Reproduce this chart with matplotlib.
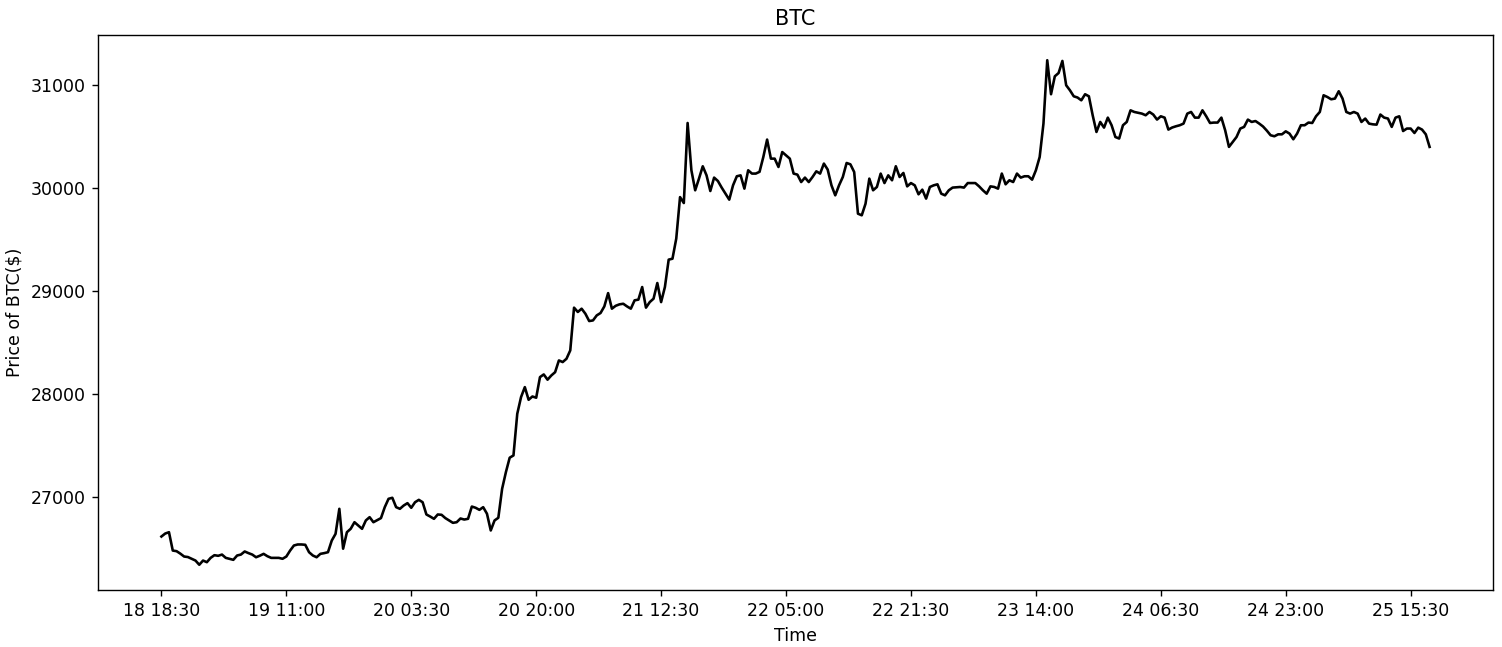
import matplotlib
matplotlib.use("Agg")
import matplotlib.pyplot as plt
import matplotlib.dates as mdates
import pandas as pd

start_time = "2023-06-18 18:30"
interval = "30min"
prices = [
    26621, 26650, 26663, 26485, 26479, 26455, 26427, 26422, 26405, 26388,
    26347, 26388, 26372, 26414, 26440, 26434, 26446, 26414, 26405, 26395,
    26437, 26446, 26476, 26460, 26446, 26420, 26435, 26453, 26430, 26414,
    26414, 26414, 26405, 26427, 26485, 26534, 26544, 26544, 26541, 26469,
    26437, 26420, 26453, 26460, 26469, 26582, 26647, 26890, 26503, 26663,
    26696, 26760, 26728, 26696, 26777, 26809, 26760, 26780, 26800, 26906,
    26987, 26997, 26906, 26890, 26922, 26945, 26900, 26954, 26977, 26954,
    26835, 26815, 26793, 26835, 26832, 26800, 26777, 26754, 26760, 26796,
    26786, 26793, 26912, 26900, 26880, 26906, 26842, 26680, 26777, 26803,
    27084, 27246, 27386, 27408, 27812, 27974, 28071, 27948, 27980, 27968,
    28168, 28194, 28143, 28184, 28216, 28330, 28314, 28346, 28427, 28842,
    28800, 28832, 28783, 28712, 28718, 28767, 28790, 28854, 28983, 28832,
    28860, 28874, 28880, 28854, 28832, 28913, 28920, 29042, 28842, 28896,
    28929, 29081, 28896, 29042, 29308, 29317, 29512, 29915, 29857, 30634,
    30175, 29981, 30094, 30214, 30126, 29974, 30104, 30071, 30007, 29948,
    29890, 30029, 30117, 30126, 29997, 30175, 30143, 30143, 30160, 30304,
    30473, 30288, 30288, 30207, 30352, 30320, 30288, 30143, 30133, 30061,
    30104, 30061, 30110, 30165, 30143, 30240, 30182, 30029, 29932, 30029,
    30110, 30246, 30233, 30158, 29754, 29738, 29851, 30094, 29981, 30013,
    30143, 30051, 30126, 30078, 30214, 30110, 30149, 30019, 30051, 30029,
    29942, 29987, 29900, 30013, 30029, 30039, 29948, 29932, 29981, 30007,
    30010, 30013, 30007, 30051, 30051, 30051, 30019, 29981, 29948, 30019,
    30013, 29997, 30143, 30039, 30078, 30061, 30143, 30104, 30117, 30117,
    30084, 30175, 30304, 30628, 31243, 30913, 31087, 31119, 31236, 31000,
    30951, 30893, 30881, 30854, 30913, 30893, 30709, 30547, 30644, 30589,
    30686, 30612, 30498, 30483, 30612, 30644, 30757, 30741, 30733, 30725,
    30709, 30741, 30716, 30667, 30699, 30686, 30570, 30590, 30602, 30612,
    30628, 30725, 30741, 30686, 30686, 30757, 30699, 30634, 30638, 30638,
    30686, 30563, 30402, 30450, 30498, 30580, 30596, 30667, 30644, 30653,
    30628, 30600, 30560, 30515, 30505, 30524, 30524, 30553, 30531, 30476,
    30531, 30612, 30612, 30638, 30634, 30699, 30741, 30903, 30886, 30864,
    30871, 30942, 30871, 30741, 30725, 30741, 30725, 30644, 30677, 30628,
    30621, 30618, 30716, 30686, 30677, 30596, 30686, 30699, 30556, 30580,
    30580, 30537, 30589, 30570, 30524, 30402,
]
tick_step = 33  # every 16.5 hours
title = "BTC"
xlabel = "Time"
ylabel = "Price of BTC($)"

times = pd.date_range(start=start_time, periods=len(prices), freq=interval)

DPI = 125
fig = plt.figure(figsize=(1502 / DPI, 647 / DPI), dpi=DPI)
ax = fig.add_axes([98 / 1502, 1 - 590 / 647, (1493 - 98) / 1502, (590 - 35) / 647])
ax.plot(times, prices, color="black", linewidth=1.5)
ax.set_xticks(times[::tick_step])
ax.xaxis.set_major_formatter(mdates.DateFormatter("%d %H:%M"))
ax.set_title(title)
ax.set_xlabel(xlabel)
ax.set_ylabel(ylabel)
fig.savefig("out.png", dpi=DPI)
